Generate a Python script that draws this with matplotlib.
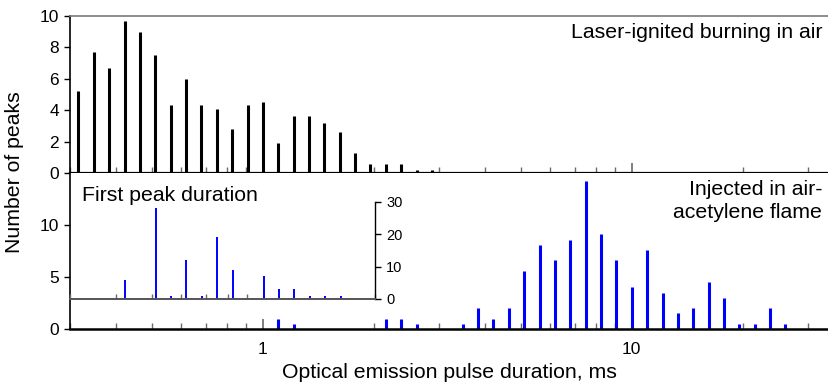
import numpy as np
import matplotlib
matplotlib.use("Agg")
import matplotlib.pyplot as plt
from matplotlib.ticker import FixedLocator, NullFormatter, LogLocator

plt.rcParams['font.family'] = ['Liberation Sans', 'DejaVu Sans']

# Histogram bins: 24 logarithmic bins per decade, bin index k -> centre 10**(k/24) ms
BINS_PER_DECADE = 24

# Laser-ignited burning in air (bins k = -12 .. 11)
air_bins = list(range(-12, 12))
air_counts = [5.2, 7.7, 6.7, 9.7, 9.0, 7.5, 4.3, 6.0, 4.3, 4.1, 2.8, 4.3,
              4.5, 1.9, 3.6, 3.6, 3.2, 2.6, 1.3, 0.6, 0.6, 0.6, 0.2, 0.2]

# Injected in air-acetylene flame
flame_bins = [1, 2, 8, 9, 10, 13, 14, 15, 16, 17, 18, 19, 20, 21, 22, 23, 24,
              25, 26, 27, 28, 29, 30, 31, 32, 33, 34]
flame_counts = [1.0, 0.5, 1.0, 1.0, 0.5, 0.5, 2.0, 1.0, 2.0, 5.6, 8.1, 6.6, 8.6,
                14.2, 9.1, 6.6, 4.0, 7.6, 3.5, 1.5, 2.0, 4.55, 3.0, 0.5, 0.5,
                2.0, 0.5]

# First peak duration (inset)
first_bins = [-9, -7, -6, -5, -4, -3, -2, 0, 1, 2, 3, 4, 5]
first_counts = [6, 28, 1, 12, 1, 19, 9, 7, 3, 3, 1, 1, 1]

top_yticks = [0, 2, 4, 6, 8, 10]
bot_yticks = [0, 5, 10]
inset_yticks = [0, 10, 20, 30]
x_major = [1, 10]
x_major_labels = ["1", "10"]


def centres(bins):
    return 10.0 ** (np.asarray(bins) / BINS_PER_DECADE)


W, H = 829, 388
fig = plt.figure(figsize=(W / 100, H / 100), dpi=100)

left = 70 / W
y_top = 1 - 16 / H
y_mid = 1 - 173 / H
y_bot = 1 - 329 / H

ax_top = fig.add_axes([left, y_mid, 1 - left, y_top - y_mid])
ax_bot = fig.add_axes([left, y_bot, 1 - left, y_mid - y_bot], sharex=ax_top)
ax_in = fig.add_axes([left, 1 - 299 / H, 305 / W, (299 - 201.7) / H])
ax_in.patch.set_alpha(0)

tick_grey = '#6a6a6a'
label_fs = 15.3

for ax in (ax_top, ax_bot):
    ax.set_xscale('log')
    ax.set_xlim(0.3, 10 ** ((W - 262.7) / 369))
    ax.xaxis.set_major_locator(FixedLocator(x_major))
    ax.xaxis.set_minor_locator(LogLocator(base=10, subs=np.arange(2, 10)))
    ax.xaxis.set_minor_formatter(NullFormatter())
    ax.tick_params(axis='x', which='major', direction='in', length=7,
                   width=1.2, color=tick_grey)
    ax.tick_params(axis='x', which='minor', direction='in', length=4,
                   width=1.0, color=tick_grey)
    ax.tick_params(axis='y', direction='out', length=4, width=1.0,
                   labelsize=12.5, pad=4)
    ax.spines['right'].set_visible(False)
    ax.spines['left'].set_linewidth(1.2)

ax_top.vlines(centres(air_bins), 0, air_counts, colors='black', linewidth=2.2)
ax_top.set_ylim(0, 10)
ax_top.set_yticks(top_yticks)
ax_top.spines['top'].set_color('#7a7a7a')
ax_top.spines['top'].set_linewidth(1.2)
ax_top.spines['bottom'].set_linewidth(1.6)
ax_top.tick_params(axis='x', labelbottom=False)
ax_top.text(0.991, 0.895, "Laser-ignited burning in air", transform=ax_top.transAxes,
            ha='right', va='center', fontsize=label_fs)

ax_bot.vlines(centres(flame_bins), 0, flame_counts, colors='#0000ff', linewidth=2.2)
ax_bot.set_ylim(0, 15)
ax_bot.set_yticks(bot_yticks)
ax_bot.spines['top'].set_visible(False)
ax_bot.spines['bottom'].set_linewidth(1.8)
ax_bot.set_xticks(x_major)
ax_bot.set_xticklabels(x_major_labels)
ax_bot.tick_params(axis='x', which='major', labelsize=12.5, pad=9)
ax_bot.text(0.991, 0.82, "Injected in air-\nacetylene flame", transform=ax_bot.transAxes,
            ha='right', va='center', fontsize=label_fs, linespacing=1.22)
ax_bot.set_xlabel("Optical emission pulse duration, ms", fontsize=label_fs, labelpad=5)

fig.text(0.017, (y_top + y_bot) / 2, "Number of peaks", rotation=90,
         ha='center', va='center', fontsize=label_fs)

# Inset: first peak duration
ax_in.set_xscale('log')
ax_in.set_xlim(0.3, 2.0)
ax_in.set_ylim(0, 30)
ax_in.vlines(centres(first_bins), 0, first_counts, colors='#0000ff', linewidth=1.4)
ax_in.xaxis.set_major_locator(FixedLocator(x_major))
ax_in.xaxis.set_minor_locator(LogLocator(base=10, subs=np.arange(2, 10)))
ax_in.xaxis.set_major_formatter(NullFormatter())
ax_in.xaxis.set_minor_formatter(NullFormatter())
ax_in.tick_params(axis='x', which='major', direction='in', length=6,
                  width=1.2, color=tick_grey)
ax_in.tick_params(axis='x', which='minor', direction='in', length=3.5,
                  width=1.0, color=tick_grey)
ax_in.spines['left'].set_visible(False)
ax_in.spines['top'].set_visible(False)
ax_in.spines['bottom'].set_color('#555555')
ax_in.spines['bottom'].set_linewidth(1.4)
ax_in.spines['right'].set_linewidth(1.0)
ax_in.yaxis.tick_right()
ax_in.set_yticks(inset_yticks)
ax_in.tick_params(axis='y', direction='out', length=4, width=1.0,
                  labelsize=10.5, pad=4)
ax_in.text(0.04, 1.06, "First peak duration", transform=ax_in.transAxes,
           ha='left', va='center', fontsize=label_fs)

fig.savefig("out.png", dpi=100)
